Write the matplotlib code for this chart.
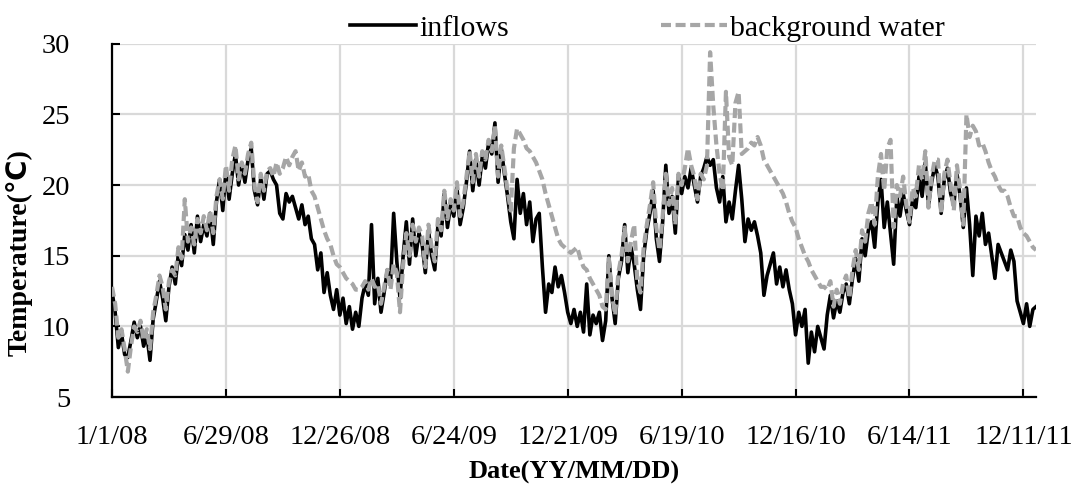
import matplotlib
matplotlib.use('Agg')
import matplotlib.pyplot as plt
import pandas as pd

# sampled every 5 days from 1/1/2008 to 12/31/2011
start_date = '2008-01-01'
step = '5D'

inflows = [
    12.5, 11.0, 8.5, 9.5, 8.0, 7.8, 9.0, 10.3, 9.2, 10.0,
    8.6, 9.4, 7.6, 10.5, 11.8, 13.2, 12.0, 10.4, 12.8, 14.2,
    13.0, 15.2, 14.3, 16.5, 15.4, 17.2, 15.2, 17.8, 16.0, 17.2,
    16.4, 18.0, 15.8, 18.8, 20.4, 18.2, 21.0, 19.0, 20.8, 22.2,
    20.0, 21.5, 20.2, 21.8, 22.6, 19.6, 18.6, 20.5, 19.0, 20.8,
    21.0, 20.4, 20.0, 18.0, 17.6, 19.4, 18.8, 19.2, 18.4, 17.6,
    18.6, 17.2, 17.8, 16.2, 15.8, 14.0, 15.2, 12.4, 13.8, 12.2,
    11.2, 12.6, 10.8, 12.0, 10.2, 11.4, 9.8, 11.0, 10.0, 12.0,
    13.0, 12.2, 17.2, 11.6, 13.4, 11.0, 12.4, 14.0, 13.0, 18.0,
    14.6, 12.0, 15.0, 17.4, 14.4, 17.6, 15.0, 16.6, 15.8, 13.8,
    16.8, 15.0, 14.0, 17.2, 16.4, 19.4, 17.0, 18.6, 17.8, 19.8,
    17.2, 18.4, 20.2, 22.4, 19.6, 21.8, 20.0, 22.0, 21.2, 23.0,
    22.2, 24.4, 20.2, 22.6, 20.8, 19.2, 17.4, 16.2, 20.4, 18.0,
    19.4, 17.2, 18.8, 16.0, 17.6, 18.0, 14.2, 11.0, 13.0, 12.4,
    14.2, 12.8, 13.6, 12.4, 11.0, 10.2, 11.2, 10.0, 11.0, 9.6,
    13.0, 9.4, 10.8, 10.2, 11.0, 9.0, 10.4, 15.0, 12.0, 10.2,
    13.4, 14.6, 17.2, 13.8, 15.6, 14.4, 12.6, 11.2, 15.0, 16.8,
    18.0, 19.6, 16.2, 14.6, 17.4, 21.4, 18.0, 19.2, 16.6, 20.6,
    19.4, 20.6, 19.8, 21.2, 20.0, 18.8, 20.6, 21.2, 22.0, 21.4,
    21.8, 19.8, 18.8, 20.6, 17.4, 18.8, 17.6, 19.6, 21.4, 19.0,
    16.0, 17.6, 16.8, 17.4, 16.4, 15.2, 12.2, 13.6, 14.4, 15.2,
    13.0, 14.2, 12.8, 14.0, 12.6, 11.6, 9.4, 11.0, 10.0, 11.2,
    7.4, 9.6, 8.2, 10.0, 9.2, 8.4, 10.8, 12.2, 10.6, 11.8,
    11.0, 12.4, 13.0, 11.6, 13.4, 14.8, 13.2, 16.2, 15.0, 16.8,
    17.4, 15.6, 18.8, 20.4, 17.0, 18.8, 16.6, 14.4, 19.2, 17.8,
    19.4, 18.2, 17.2, 19.0, 18.4, 20.6, 19.2, 21.6, 18.6, 20.2,
    21.4, 20.6, 18.0, 20.4, 21.2, 19.4, 18.6, 20.8, 19.2, 17.0,
    19.8, 17.2, 13.6, 17.8, 16.4, 18.0, 15.8, 16.6, 15.0, 13.4,
    15.8, 15.2, 14.6, 14.0, 15.4, 14.6, 11.8, 11.0, 10.2, 11.6,
    10.0, 11.2, 11.4,
]

background = [
    12.8, 11.6, 9.2, 9.8, 8.4, 6.8, 8.6, 10.0, 9.6, 10.4,
    9.0, 9.8, 8.4, 11.0, 12.2, 13.6, 12.8, 11.2, 13.2, 14.0,
    13.6, 15.6, 14.8, 19.0, 16.0, 17.0, 15.8, 17.6, 16.6, 17.8,
    16.8, 18.2, 16.6, 19.2, 20.4, 19.0, 21.4, 19.6, 21.8, 22.8,
    20.4, 21.6, 20.8, 22.2, 23.0, 20.0, 18.8, 20.8, 19.6, 21.0,
    21.2, 20.6, 21.6, 20.8, 21.2, 22.0, 21.4, 22.0, 22.4, 21.0,
    21.6, 20.6, 20.8, 19.6, 19.2, 18.4, 17.6, 16.8, 16.2, 15.8,
    15.0, 14.4, 14.2, 13.8, 13.4, 13.2, 13.0, 12.6, 12.6, 12.8,
    13.2, 12.6, 13.4, 12.8, 13.0, 11.6, 12.8, 14.0, 12.6, 14.4,
    13.8, 11.0, 14.4, 16.6, 15.0, 17.2, 16.0, 17.0, 16.4, 14.2,
    17.2, 15.6, 14.6, 17.6, 16.8, 19.6, 17.6, 19.0, 18.2, 20.2,
    17.8, 18.8, 20.6, 22.4, 20.2, 22.2, 20.6, 22.4, 21.8, 23.2,
    22.4, 24.2, 20.6, 22.8, 21.2, 19.6, 18.2, 22.6, 24.0, 23.6,
    23.2, 22.6, 22.4, 22.0, 21.6, 21.0, 20.4, 19.4, 18.6, 17.8,
    17.0, 16.2, 15.8, 15.6, 15.4, 15.2, 15.4, 15.6, 14.8, 14.2,
    14.0, 13.4, 13.0, 12.6, 12.2, 11.4, 11.2, 14.8, 12.2, 10.8,
    13.8, 15.0, 17.0, 14.6, 16.0, 17.2, 13.2, 12.4, 15.6, 17.2,
    18.6, 20.2, 17.0, 15.4, 17.8, 20.8, 18.6, 19.8, 17.2, 20.8,
    20.0, 21.2, 22.6, 21.4, 20.6, 19.0, 20.8, 20.4, 21.4, 29.4,
    25.6, 22.8, 20.8, 19.6, 26.6, 22.0, 21.4, 25.8, 26.6, 22.2,
    22.4, 22.6, 23.0, 22.8, 23.4, 22.8, 21.8, 21.4, 21.0, 20.6,
    20.2, 19.8, 19.4, 18.8, 18.0, 17.4, 17.0, 16.2, 15.6, 15.0,
    14.6, 14.0, 13.6, 13.2, 12.8, 12.8, 12.6, 13.2, 11.4, 12.6,
    11.6, 13.0, 13.6, 12.0, 14.0, 15.4, 14.0, 16.8, 16.0, 18.0,
    18.8, 17.2, 20.6, 22.2, 19.6, 22.6, 23.2, 17.0, 20.0, 19.2,
    20.6, 18.6, 17.4, 19.8, 19.2, 21.4, 20.4, 22.4, 18.4, 20.6,
    21.8, 21.8, 18.0, 20.8, 21.8, 20.0, 18.2, 21.4, 19.6, 17.2,
    25.0, 23.4, 24.2, 23.8, 22.8, 23.0, 22.4, 21.6, 21.0, 20.6,
    20.0, 19.6, 19.6, 19.2, 18.4, 17.8, 17.8, 17.0, 16.6, 16.4,
    16.0, 15.6, 15.4,
]

tick_labels = ['1/1/08', '6/29/08', '12/26/08', '6/24/09', '12/21/09',
               '6/19/10', '12/16/10', '6/14/11', '12/11/11']

plt.rcParams['font.family'] = ['Liberation Serif', 'DejaVu Sans']

dates = pd.date_range(start_date, periods=len(inflows), freq=step)
tick_dates = pd.date_range(start_date, periods=len(tick_labels), freq='180D')

fig = plt.figure(figsize=(10.77, 4.86), dpi=100)
ax = fig.add_axes([0.104, 0.183, 0.858, 0.727])

ax.plot(dates, inflows, color='black', linewidth=2.6, label='inflows', zorder=3)
ax.plot(dates, background, color='#a6a6a6', linewidth=3.0,
        linestyle=(0, (2.4, 1.1)), label='background water', zorder=4)

ax.set_ylim(5, 30)
ax.set_yticks([5, 10, 15, 20, 25, 30])
ax.set_xlim(pd.Timestamp('2008-01-01'), pd.Timestamp('2011-12-31'))
ax.set_xticks(tick_dates)
ax.set_xticklabels(tick_labels)

ax.grid(True, color='#d9d9d9', linewidth=1.6)
ax.set_axisbelow(True)
for side in ['top', 'right']:
    ax.spines[side].set_visible(False)
for side in ['left', 'bottom']:
    ax.spines[side].set_linewidth(1.6)
    ax.spines[side].set_color('black')

ax.tick_params(axis='both', direction='in', length=6, width=1.5, labelsize=20.5)
ax.tick_params(axis='x', pad=20)
ax.tick_params(axis='y', pad=30)

ax.set_ylabel('Temperature(℃)', fontsize=20, fontweight='bold',
              family=['Liberation Serif', 'DejaVu Sans'])
ax.yaxis.set_label_coords(-0.086, 0.41)
ax.set_xlabel('Date(YY/MM/DD)', fontsize=19, fontweight='bold', labelpad=8)

fig.legend(loc='center', bbox_to_anchor=(0.601, 0.942), ncol=2, frameon=False,
           fontsize=21.5, handlelength=2.2, handletextpad=0.1, columnspacing=5.1,
           borderpad=0)

fig.savefig('out.png', dpi=100)
